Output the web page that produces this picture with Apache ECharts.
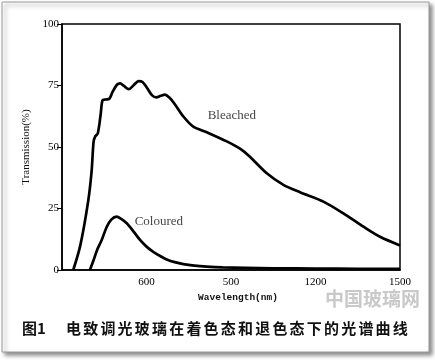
<!DOCTYPE html>
<html>
<head>
<meta charset="utf-8">
<script src="https://cdn.jsdelivr.net/npm/echarts@6/dist/echarts.min.js"></script>
<style>
html,body{margin:0;padding:0;background:#fff;}
#wrap{position:relative;width:435px;height:360px;overflow:hidden;}
#chart{position:absolute;left:0;top:0;width:435px;height:360px;}
.cap{position:absolute;font-family:"Noto Sans CJK SC";font-weight:bold;font-size:15px;color:#111;line-height:15px;white-space:nowrap;}
.wm{position:absolute;font-family:"Noto Sans CJK SC";font-weight:bold;font-size:19px;color:#c9c9c9;line-height:19px;white-space:nowrap;}
</style>
</head>
<body>
<div id="wrap">
<div id="chart"></div>
<div class="wm" style="left:325px;top:288px;">中国玻璃网</div>
<div class="cap" style="left:22px;top:320px;">图1</div>
<div class="cap" style="left:66px;top:320px;letter-spacing:2.2px;">电致调光玻璃在着色态和退色态下的光谱曲线</div>
</div>
<script>
// Data (wavelength nm, transmission %)
var bleachedX = [340,365,393,405,412,418,427,437,444,455,468,480,495,506,520,537,555,572,586,602,620,635,650,665,682,700,731,766,814,885,932,967,1027,1086,1145,1228,1299,1370,1429,1500];
var bleachedY = [0,10,28,40,52,54.3,55.5,63,69,69.3,69.6,72.5,75.3,75.9,74.8,73.5,75.2,76.8,76.4,74,71,70.2,70.8,71.3,70,67.5,62.4,58.3,56,52.3,49.3,46,39.3,34.6,31.6,27.8,23,17.6,13.5,10];
var colouredX = [399,412,426,441,459,475,494,510,530,555,577,600,624,650,672,700,731,770,814,870,950,1050,1200,1350,1500];
var colouredY = [0,4,8.5,12.2,17.6,20.5,21.7,20.8,19,15.5,12.2,9.5,7.4,5.6,4.3,3.2,2.4,1.8,1.4,1.1,0.9,0.7,0.6,0.5,0.5];
var xTickValues = [300,600,900,1200,1500];
var xTickLabels = ['','600','500','1200','1500'];
var yTickValues = [0,25,50,75,100];
var labelNames = ['Bleached','Coloured'];
var labelX = [903,644];
var labelY = [62.6,19.5];

function zip(a,b){return a.map(function(v,i){return [v,b[i]];});}

var chart = echarts.init(document.getElementById('chart'), null, {renderer:'canvas'});
var serif = 'Liberation Serif';
chart.setOption({
  backgroundColor:'transparent',
  animation:false,
  graphic:[{
    type:'rect', z:-10, silent:true,
    shape:{x:2,y:2,width:427,height:350},
    style:{fill:'#fff',stroke:'#9a9a9a',lineWidth:1,shadowBlur:4,shadowOffsetX:3,shadowOffsetY:3,shadowColor:'rgba(0,0,0,0.45)'}
  }],
  grid:{left:62,right:35,top:24,bottom:90,show:true,borderColor:'#000',borderWidth:1.5,backgroundColor:'transparent'},
  xAxis:{
    type:'value',min:300,max:1500,interval:300,
    name:'Wavelength(nm)',nameLocation:'middle',nameGap:20,
    nameTextStyle:{fontFamily:'Liberation Mono',fontWeight:'bold',fontSize:9.5,color:'#111',padding:[0,0,0,14]},
    axisLine:{show:true,lineStyle:{color:'#000',width:1.5}},
    axisTick:{show:false},
    splitLine:{show:false},
    axisLabel:{margin:7,fontFamily:serif,fontSize:11,color:'#000',
      formatter:function(v){var i=xTickValues.indexOf(v);return i>=0?xTickLabels[i]:'';}}
  },
  yAxis:{
    type:'value',min:0,max:100,interval:25,
    name:'Transmission(%)',nameLocation:'middle',nameGap:30,
    nameTextStyle:{fontFamily:serif,fontSize:11,color:'#111'},
    axisLine:{show:true,lineStyle:{color:'#000',width:1.5}},
    axisTick:{show:true,length:5,lineStyle:{color:'#000',width:1}},
    splitLine:{show:false},
    axisLabel:{margin:3,fontFamily:serif,fontSize:11,color:'#000',
      formatter:function(v){return yTickValues.indexOf(v)>=0?String(v):'';}}
  },
  series:[
    {type:'line',name:'Bleached',data:zip(bleachedX,bleachedY),showSymbol:false,smooth:0.3,
      lineStyle:{color:'#000',width:2.7},clip:true},
    {type:'line',name:'Coloured',data:zip(colouredX,colouredY),showSymbol:false,smooth:0.3,
      lineStyle:{color:'#000',width:2.7},clip:true},
    {type:'scatter',data:labelNames.map(function(n,i){return {name:n,value:[labelX[i],labelY[i]]};}),
      symbolSize:0,silent:true,
      label:{show:true,position:'inside',formatter:'{b}',fontFamily:serif,fontSize:13,color:'#111'}}
  ]
});
</script>
</body>
</html>
